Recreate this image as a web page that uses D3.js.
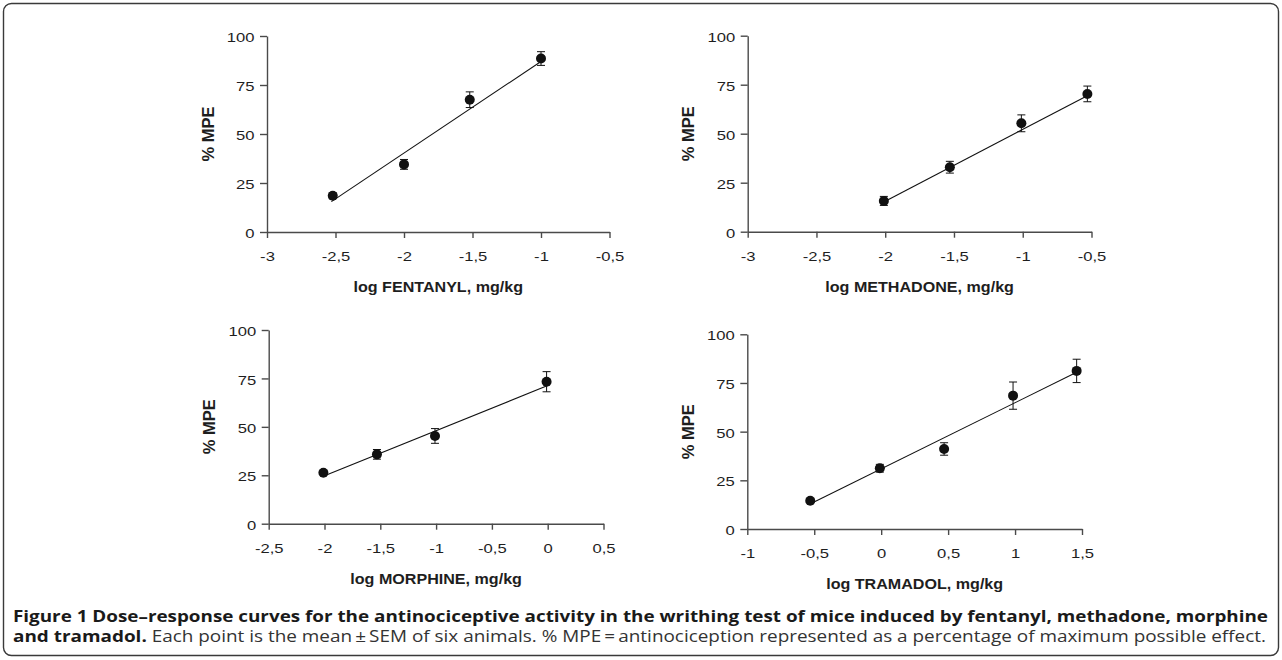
<!DOCTYPE html>
<html>
<head>
<meta charset="utf-8">
<script src="https://cdn.jsdelivr.net/npm/d3@7"></script>
<style>
  html, body { margin: 0; padding: 0; background: #fff; }
  svg { display: block; }
</style>
</head>
<body>
<svg id="chart" width="1282" height="660"></svg>
<script>
// ---------------- data ----------------
const yTicks = [0, 25, 50, 75, 100];

const fentanylTitle = "log FENTANYL, mg/kg";
const fentanylTicks = [-3, -2.5, -2, -1.5, -1, -0.5];
const fentanylX   = [-2.52, -2.0, -1.52, -1.0];
const fentanylY   = [18.5, 34.5, 67.5, 88.5];
const fentanylErr = [1.5, 2.5, 4, 3.5];
const fentanylFitX = [-2.53, -1.0];
const fentanylFitY = [15.5, 87];

const methadoneTitle = "log METHADONE, mg/kg";
const methadoneTicks = [-3, -2.5, -2, -1.5, -1, -0.5];
const methadoneX   = [-2.01, -1.53, -1.01, -0.53];
const methadoneY   = [15.7, 32.9, 55.3, 70.3];
const methadoneErr = [2.3, 3, 4.3, 4];
const methadoneFitX = [-2.0, -0.52];
const methadoneFitY = [15.5, 69.8];

const morphineTitle = "log MORPHINE, mg/kg";
const morphineTicks = [-2.5, -2, -1.5, -1, -0.5, 0, 0.5];
const morphineX   = [-2.01, -1.53, -1.01, -0.01];
const morphineY   = [26.3, 35.8, 45.3, 73.3];
const morphineErr = [1, 2.5, 3.8, 5.2];
const morphineFitX = [-2.0, 0.0];
const morphineFitY = [24.8, 71.3];

const tramadolTitle = "log TRAMADOL, mg/kg";
const tramadolTicks = [-1, -0.5, 0, 0.5, 1, 1.5];
const tramadolX   = [-0.53, -0.01, 0.47, 0.985, 1.46];
const tramadolY   = [14.5, 31.2, 41.1, 68.5, 81.2];
const tramadolErr = [1, 2, 3.2, 7, 6];
const tramadolFitX = [-0.52, 1.46];
const tramadolFitY = [13.2, 80.5];

const yLabel = "% MPE";
const captionBold1 = "Figure 1 Dose\u2013response curves for the antinociceptive activity in the writhing test of mice induced by fentanyl, methadone, morphine";
const captionBold2 = "and tramadol.";
const captionRegular2 = " Each point is the mean\u2009\u00b1\u2009SEM of six animals. % MPE\u2009=\u2009antinociception represented as a percentage of maximum possible effect.";

// ---------------- layout ----------------
const panels = [
  { title: fentanylTitle, ticks: fentanylTicks, xs: fentanylX, ys: fentanylY, err: fentanylErr, fx: fentanylFitX, fy: fentanylFitY,
    dom: [-3, -0.5], rx: [267, 609.5], ry: [232, 36] },
  { title: methadoneTitle, ticks: methadoneTicks, xs: methadoneX, ys: methadoneY, err: methadoneErr, fx: methadoneFitX, fy: methadoneFitY,
    dom: [-3, -0.5], rx: [747.7, 1091.5], ry: [231.7, 35.7] },
  { title: morphineTitle, ticks: morphineTicks, xs: morphineX, ys: morphineY, err: morphineErr, fx: morphineFitX, fy: morphineFitY,
    dom: [-2.5, 0.5], rx: [268.7, 603.5], ry: [523.7, 330] },
  { title: tramadolTitle, ticks: tramadolTicks, xs: tramadolX, ys: tramadolY, err: tramadolErr, fx: tramadolFitX, fy: tramadolFitY,
    dom: [-1, 1.5], rx: [747.3, 1082], ry: [529, 334.3] }
];

const locale = d3.formatLocale({ decimal: ",", thousands: ".", grouping: [3], currency: ["", ""], minus: "-" });
const fmt = locale.format("");

const svg = d3.select("#chart");
const FONT = "'Liberation Sans', Arial, Helvetica, sans-serif";
const AXIS = "#4a4a4a";
const TXT = "#1e1e1e";
const SX = 1.33; // horizontal stretch of tick text

// frame
svg.append("rect")
  .attr("x", 3.5).attr("y", 3.5).attr("width", 1275).attr("height", 652)
  .attr("rx", 8).attr("ry", 8)
  .attr("fill", "#fff").attr("stroke", "#3a3a3a").attr("stroke-width", 1.4);

panels.forEach(p => {
  const x = d3.scaleLinear().domain(p.dom).range(p.rx);
  const y = d3.scaleLinear().domain([0, 100]).range(p.ry);
  const g = svg.append("g");

  // x axis
  const gx = g.append("g").attr("transform", `translate(0,${p.ry[0]})`)
    .call(d3.axisBottom(x).tickValues(p.ticks).tickFormat(fmt).tickSize(6).tickSizeOuter(0));
  gx.select(".domain").attr("stroke", AXIS).attr("stroke-width", 1.4);
  gx.selectAll(".tick line").attr("stroke", AXIS).attr("stroke-width", 1.4);
  gx.selectAll(".tick text")
    .attr("y", 20.5).attr("dy", "0.71em")
    .attr("transform", `scale(${SX},1)`)
    .attr("fill", TXT).style("font-family", FONT).style("font-size", "12.5px");

  // y axis
  const gy = g.append("g").attr("transform", `translate(${p.rx[0]},0)`)
    .call(d3.axisLeft(y).tickValues(yTicks).tickSize(7).tickSizeOuter(0));
  gy.select(".domain").attr("stroke", AXIS).attr("stroke-width", 1.4);
  gy.selectAll(".tick line").attr("stroke", AXIS).attr("stroke-width", 1.4);
  gy.selectAll(".tick text")
    .attr("x", -12.5 / SX).attr("dy", "0.45em")
    .attr("transform", `scale(${SX},1)`)
    .attr("fill", TXT).style("font-family", FONT).style("font-size", "12.5px");

  // axis title
  const cx = (p.rx[0] + p.rx[1]) / 2;
  g.append("text")
    .attr("transform", `translate(${cx},${p.ry[0] + 60}) scale(1.15,1)`)
    .attr("text-anchor", "middle")
    .attr("fill", TXT).style("font-family", FONT).style("font-size", "14px").style("font-weight", "bold")
    .text(p.title);

  // y label
  const cy = (p.ry[0] + p.ry[1]) / 2;
  g.append("text")
    .attr("transform", `translate(${p.rx[0] - 53.5},${cy}) rotate(-90)`)
    .attr("text-anchor", "middle")
    .attr("fill", TXT).style("font-family", FONT).style("font-size", "16.5px").style("font-weight", "bold")
    .text(yLabel);

  // fit line
  const fit = p.fx.map((v, i) => [v, p.fy[i]]);
  g.append("path")
    .datum(fit)
    .attr("d", d3.line().x(d => x(d[0])).y(d => y(d[1])))
    .attr("fill", "none").attr("stroke", "#111").attr("stroke-width", 1.1);

  const pts = p.xs.map((v, i) => ({ x: v, y: p.ys[i], e: p.err[i] }));

  // error bars
  const eb = g.append("g").selectAll("g").data(pts).join("g");
  eb.append("line")
    .attr("x1", d => x(d.x)).attr("x2", d => x(d.x))
    .attr("y1", d => y(d.y + d.e)).attr("y2", d => y(d.y - d.e))
    .attr("stroke", "#111").attr("stroke-width", 1);
  [1, -1].forEach(s => {
    eb.append("line")
      .attr("x1", d => x(d.x) - 4).attr("x2", d => x(d.x) + 4)
      .attr("y1", d => y(d.y + s * d.e)).attr("y2", d => y(d.y + s * d.e))
      .attr("stroke", "#111").attr("stroke-width", 1);
  });

  // points
  g.append("g").selectAll("circle").data(pts).join("circle")
    .attr("cx", d => x(d.x)).attr("cy", d => y(d.y)).attr("r", 5)
    .attr("fill", "#111");
});

// caption
const CAPFONT = "'Open Sans', 'Noto Sans', sans-serif";
svg.append("text")
  .attr("x", 13).attr("y", 622)
  .attr("textLength", 1255).attr("lengthAdjust", "spacingAndGlyphs")
  .attr("fill", "#1a1a1a").style("font-family", CAPFONT).style("font-size", "16px").style("font-weight", "bold")
  .text(captionBold1);

const c2 = svg.append("text")
  .attr("x", 13).attr("y", 642)
  .attr("textLength", 1253).attr("lengthAdjust", "spacingAndGlyphs")
  .attr("fill", "#333").style("font-family", CAPFONT).style("font-size", "16px");
c2.append("tspan").style("font-weight", "bold").attr("fill", "#1a1a1a").text(captionBold2);
c2.append("tspan").text(captionRegular2);
</script>
</body>
</html>
